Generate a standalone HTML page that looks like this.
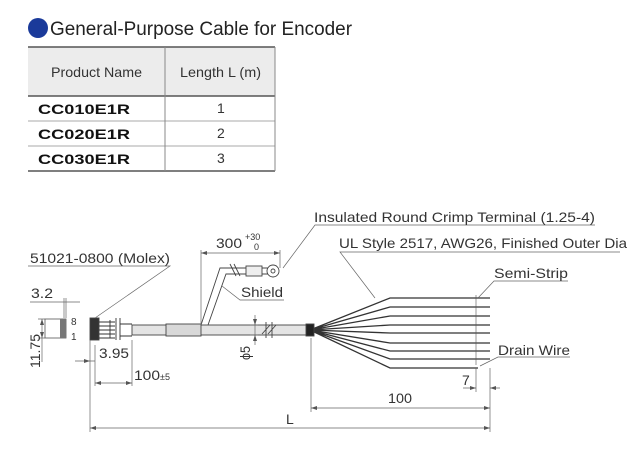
<!DOCTYPE html>
<html><head><meta charset="utf-8"><style>
html,body{margin:0;padding:0;background:#fff;}
body{width:627px;height:454px;overflow:hidden;position:relative;font-family:"Liberation Sans",sans-serif;}
svg{position:absolute;left:0;top:0;}
</style></head><body>
<svg width="627" height="454" viewBox="0 0 627 454" font-family="Liberation Sans, sans-serif">
<!-- Title -->
<circle cx="38" cy="28" r="10" fill="#1a3a9a"/>
<text x="50" y="35" font-size="19" fill="#222" textLength="302" lengthAdjust="spacingAndGlyphs">General-Purpose Cable for Encoder</text>
<!-- Table -->
<rect x="28" y="47" width="247" height="49" fill="#ececec"/>
<g stroke="#555" fill="none">
<line x1="28" y1="47" x2="275" y2="47" stroke-width="1.5"/>
<line x1="28" y1="96" x2="275" y2="96" stroke-width="1.5"/>
<line x1="28" y1="121" x2="275" y2="121" stroke="#aaa"/>
<line x1="28" y1="146" x2="275" y2="146" stroke="#aaa"/>
<line x1="28" y1="171" x2="275" y2="171" stroke-width="1.5"/>
<line x1="165" y1="47" x2="165" y2="171" stroke="#888"/>
<line x1="275" y1="47" x2="275" y2="171" stroke="#888"/>
</g>
<g font-size="14" fill="#333">
<text x="51" y="77" textLength="91" lengthAdjust="spacingAndGlyphs">Product Name</text>
<text x="180" y="77" textLength="81" lengthAdjust="spacingAndGlyphs">Length L (m)</text>
<text x="217" y="113">1</text><text x="217" y="138">2</text><text x="217" y="163">3</text>
</g>
<g font-size="14" font-weight="bold" fill="#111">
<text x="38" y="114" textLength="92" lengthAdjust="spacingAndGlyphs">CC010E1R</text>
<text x="38" y="139" textLength="92" lengthAdjust="spacingAndGlyphs">CC020E1R</text>
<text x="38" y="164" textLength="92" lengthAdjust="spacingAndGlyphs">CC030E1R</text>
</g>
<!-- Diagram -->
<g stroke="#444" stroke-width="0.9" fill="none">
<rect x="132" y="325" width="178" height="10" fill="#e4e4e4"/>
<rect x="166" y="324" width="35" height="12" fill="#d8d8d8"/>
<rect x="90" y="318" width="9" height="22" fill="#333"/>
<path d="M99 322h16M99 326h16M99 330h16M99 334h16M99 338h16M110 320v18M116 318v22M120 318v22M120 324h12M120 336h12" stroke="#333"/>
<path d="M201 325L220 268h26M208 325L226 274h20" />
<path d="M230 264l6 12M234 264l6 12"/>
<rect x="246" y="266" width="16" height="10" fill="#eee"/>
<path d="M262 268h6M262 274h6"/>
<circle cx="273" cy="271" r="6" fill="#fff"/>
<circle cx="273" cy="271" r="2"/>
<path d="M262 334l8-9M268 334l8-9M266 322v16M272 322v16"/>
<path d="M310 330L390 298H490M310 330L390 307H490M310 330L390 316H490M310 330L390 325H490M310 330L390 333H490M310 330L390 343H490M310 330L390 351H490M310 330L390 359H490M310 330L390 368H478" stroke="#333" stroke-width="1.3"/>
<rect x="306" y="324" width="8" height="12" fill="#222"/>
<path d="M476 295v70" stroke="#555" stroke-width="0.6"/>
<g stroke="#666" stroke-width="0.7">
<path d="M90 340V432M201 250V325M280 250V268M311 338V412M490 370V432M476 368V392M490 368V392"/>
<path d="M201 253H280M311 408H490M90 428H490M95 383H132M95 345V386M132 340V386M75 361H95M463 388H476M490 388H500"/>
<path d="M30 302H80M64 298V318M66 298V318M38 319H45M38 338H45M42 319V362M255 315V345M250 325h8M250 335h8"/>
<path d="M28 266H170L95 318M595 225H315L283 268M620 252H340L375 298M568 281H494L478 298M570 357H498L480 366M284 300H240L222 286"/>
</g>
<g fill="#555" stroke="none">
<path d="M201 253l6-2v4zM280 253l-6-2v4zM311 408l6-2v4zM490 408l-6-2v4zM90 428l6-2v4zM490 428l-6-2v4zM95 383l6-2v4zM132 383l-6-2v4zM90 361l-6-2v4zM476 388l-6-2v4zM490 388l6-2v4zM42 319l-2 6h4zM42 338l-2-6h4zM255 325l-2-6h4zM255 335l-2 6h4z"/>
</g>
</g>
<rect x="45" y="319" width="21" height="19" fill="#fff" stroke="#555" stroke-width="0.8"/>
<rect x="60" y="319" width="6" height="19" fill="#777"/>
<g font-size="14" fill="#333">
<text x="30" y="263" textLength="140" lengthAdjust="spacingAndGlyphs">51021-0800 (Molex)</text>
<text x="31" y="298" textLength="22" lengthAdjust="spacingAndGlyphs">3.2</text>
<text x="71" y="325" font-size="10">8</text>
<text x="71" y="340" font-size="10">1</text>
<text transform="translate(40,368) rotate(-90)" textLength="34" lengthAdjust="spacingAndGlyphs">11.75</text>
<text x="99" y="358" textLength="30" lengthAdjust="spacingAndGlyphs">3.95</text>
<text x="134" y="380" textLength="26" lengthAdjust="spacingAndGlyphs">100</text>
<text x="160" y="380" font-size="9">±5</text>
<text x="216" y="248" textLength="26" lengthAdjust="spacingAndGlyphs">300</text>
<text x="245" y="240" font-size="9">+30</text>
<text x="254" y="250" font-size="9">0</text>
<text x="241" y="297" textLength="42" lengthAdjust="spacingAndGlyphs">Shield</text>
<text transform="translate(250,360) rotate(-90)" textLength="14" lengthAdjust="spacingAndGlyphs">ϕ5</text>
<text x="314" y="222" textLength="281" lengthAdjust="spacingAndGlyphs">Insulated Round Crimp Terminal (1.25-4)</text>
<text x="339" y="248" textLength="288" lengthAdjust="spacingAndGlyphs">UL Style 2517, AWG26, Finished Outer Dia</text>
<text x="494" y="278" textLength="74" lengthAdjust="spacingAndGlyphs">Semi-Strip</text>
<text x="498" y="355" textLength="72" lengthAdjust="spacingAndGlyphs">Drain Wire</text>
<text x="462" y="385">7</text>
<text x="388" y="403" textLength="24" lengthAdjust="spacingAndGlyphs">100</text>
<text x="286" y="424">L</text>
</g>
</svg>
</body></html>
